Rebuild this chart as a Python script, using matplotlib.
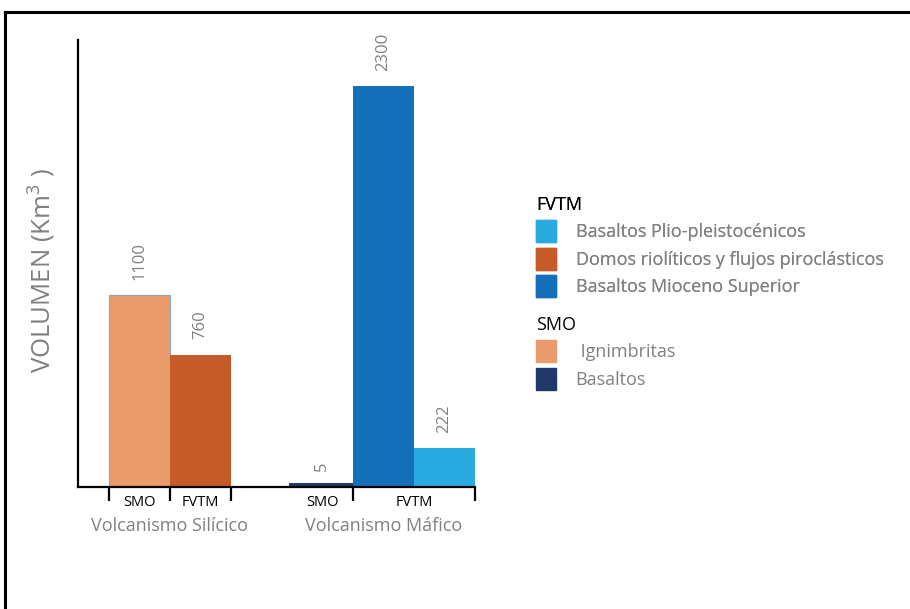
import matplotlib
matplotlib.use("Agg")
from matplotlib import pyplot as plt
import matplotlib.patches as patches
from matplotlib.lines import Line2D

plt.rcParams['font.family'] = ['Open Sans', 'DejaVu Sans']
plt.rcParams['mathtext.fontset'] = 'custom'
plt.rcParams['mathtext.rm'] = 'Open Sans'
plt.rcParams['mathtext.it'] = 'Open Sans'

# data
labels = ['Ignimbritas', 'Domos riolíticos y flujos piroclásticos', 'Basaltos',
          'Basaltos Mioceno Superior', 'Basaltos Plio-pleistocénicos']
values = [1100, 760, 5, 2300, 222]
positions = [0, 1, 3, 4, 5]
colors = ['#EA9B6B', '#C55B28', '#1F3A6A', '#1470BB', '#29ABE2']

tick_labels = ['SMO', 'FVTM', 'SMO', 'FVTM']
tick_label_pos = [0, 1, 3, 4.5]
group_labels = ['Volcanismo Silícico', 'Volcanismo Máfico']
group_pos = [0.5, 4.0]

legend_fvtm = ['Basaltos Plio-pleistocénicos', 'Domos riolíticos y flujos piroclásticos',
               'Basaltos Mioceno Superior']
legend_fvtm_col = ['#29ABE2', '#C55B28', '#1470BB']
legend_smo = [' Ignimbritas', 'Basaltos']
legend_smo_col = ['#EA9B6B', '#1F3A6A']

gray = '#808080'

fig = plt.figure(figsize=(9.1, 6.09), dpi=100)
ax = fig.add_axes([78/910, 1-487/609, (475-78)/910, (487-40)/609])

bars = ax.bar(positions, values, width=1.0, color=colors, linewidth=0, zorder=3)
bars[0].set_edgecolor('#8fa0b8')
bars[0].set_linewidth(0.8)
# tiny bar: thick edge in its own colour so it stays visible
bars[2].set_edgecolor(colors[2])
bars[2].set_linewidth(5)
bars[2].set_zorder(2)

for p, v in zip(positions, values):
    ax.annotate(str(v), xy=(p, v), xytext=(0, 11), textcoords='offset points',
                rotation=90, ha='center', va='bottom', color=gray, fontsize=12)

ax.set_xlim(-1.0, 5.5)
ax.set_ylim(0, 2565)

for s in ['top', 'right']:
    ax.spines[s].set_visible(False)
for s in ['left', 'bottom']:
    ax.spines[s].set_linewidth(1.6)
    ax.spines[s].set_zorder(4)
ax.set_yticks([])

ax.set_xticks([-0.5, 0.5, 1.5, 3.5, 5.5])
ax.set_xticklabels([])
ax.tick_params(axis='x', which='major', length=10, width=1.6, direction='out')
ax.set_xticks(tick_label_pos, minor=True)
ax.set_xticklabels(tick_labels, minor=True, fontsize=10.5)
ax.tick_params(axis='x', which='minor', length=0, pad=6)

for g, x in zip(group_labels, group_pos):
    ax.annotate(g, xy=(x, 0), xycoords=('data', 'axes fraction'), xytext=(0, -28),
                textcoords='offset points', ha='center', va='center',
                color=gray, fontsize=13)

ax.set_ylabel('VOLUMEN (Km$^3$ )', color=gray, fontsize=18.5)
ax.yaxis.set_label_coords(-0.05, 0.485)

# legends
def make_legend(cols, names, title, top):
    h = [patches.Patch(color=c) for c in cols]
    leg = fig.legend(h, names, loc='upper left', bbox_to_anchor=(536/910, 1-top/609),
                     frameon=False, fontsize=13, title=title, title_fontsize=13,
                     alignment='left', handlelength=1.1, handleheight=1.5,
                     handletextpad=1.1, labelspacing=0.32, borderpad=0, borderaxespad=0)
    for t in leg.get_texts():
        t.set_color(gray)
    return leg

leg1 = make_legend(legend_fvtm_col, legend_fvtm, 'FVTM', 196)
fig.add_artist(leg1)
leg2 = make_legend(legend_smo_col, legend_smo, 'SMO', 316)

# outer frame (left and top edges only)
fig.add_artist(Line2D([5/910, 5/910], [0, 1-12/609], color='black', lw=2.2,
                      transform=fig.transFigure))
fig.add_artist(Line2D([5/910, 1], [1-12/609, 1-12/609], color='black', lw=2.2,
                      transform=fig.transFigure))

fig.savefig('out.png', dpi=100)
